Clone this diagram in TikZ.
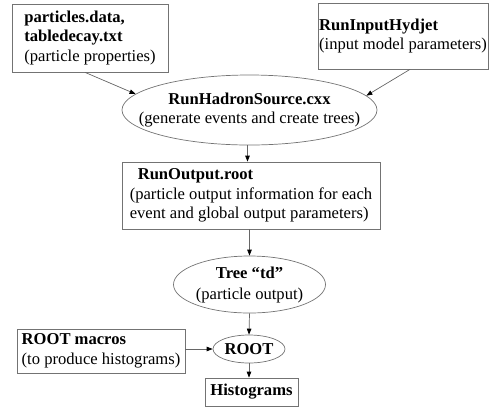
\documentclass[tikz,border=0pt]{standalone}
\usepackage{fontspec}
\setmainfont{Liberation Serif}
\usetikzlibrary{shapes.geometric,arrows.meta}
\begin{document}
\begin{tikzpicture}[x=1pt,y=-1pt,
  every node/.style={font=\fontsize{16.6}{19.5}\selectfont, text=black},
  box/.style={draw=black!55, line width=0.7pt, rectangle, inner sep=0pt, align=left},
  ell/.style={draw=black!55, line width=0.7pt, ellipse, inner sep=0pt},
  arr/.style={draw=black!60, line width=0.7pt, -{Triangle[length=6pt,width=4.5pt,color=black]}}]
\useasboundingbox (0,0) rectangle (489,408);
\node[box, minimum width=156pt, minimum height=68pt] (b1) at (90,38)
  {\textbf{particles.data,}\\\textbf{tabledecay.txt}\\(particle properties)};
\node[box, minimum width=170pt, minimum height=66pt] (b2) at (403,36)
  {\textbf{RunInputHydjet}\\(input model parameters)};
\node[ell, minimum width=255pt, minimum height=70pt,
  label={[align=center, font=\fontsize{16.6}{18.5}\selectfont]center:\textbf{RunHadronSource.cxx}\\(generate events and create trees)}] (src) at (249.5,110) {};
\node[box, minimum width=258pt, minimum height=67pt] (b3) at (251,195.5)
  {\hspace{8pt}\textbf{RunOutput.root}\\(particle output information for each\\event and global output parameters)};
\node[ell, minimum width=152pt, minimum height=57pt,
  label={[align=center, font=\fontsize{16.6}{21}\selectfont]center:\textbf{Tree ``td''}\\(particle output)}] (tree) at (249.5,284.5) {};
\node[ell, minimum width=72pt, minimum height=28pt,
  label={[font=\fontsize{16.6}{19.5}\selectfont]center:\textbf{ROOT}}] (root) at (249,349) {};
\node[box, minimum width=168pt, minimum height=44pt] (mac) at (101,351)
  {\textbf{ROOT macros}\\(to produce histograms)};
\node[box, minimum width=93pt, minimum height=28pt] (hist) at (251.5,392)
  {\textbf{Histograms}};
\draw[arr] ([xshift=-5pt]b1.south) -- (src.172);
\draw[arr] ([xshift=7pt]b2.south) -- (src.7);
\draw[arr] ([xshift=-2pt]src.south) -- ([xshift=-2pt]src.south |- b3.north);
\draw[arr] (b3.south -| tree.south) -- (tree.north);
\draw[arr] (tree.south) -- (root.north);
\draw[arr] (mac.east |- root.west) -- (root.west);
\draw[arr] (root.south) -- (root.south |- hist.north);
\end{tikzpicture}
\end{document}
